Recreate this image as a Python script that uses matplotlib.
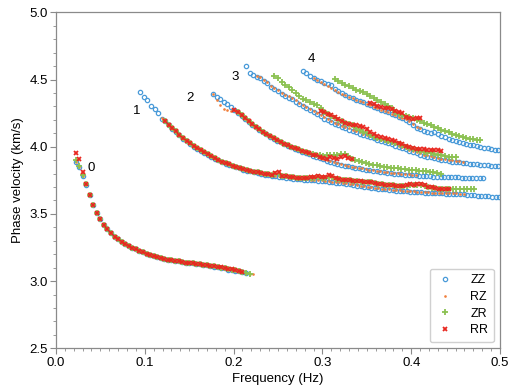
import matplotlib
matplotlib.use("Agg")
import matplotlib.pyplot as plt
from matplotlib.ticker import MultipleLocator
import numpy as np

plt.rcParams['font.family'] = ['Liberation Sans', 'DejaVu Sans']

# frequency sampling of the dispersion picks (Hz)
df = 0.004

# ---- mode 0 ----
m0_zz_f0 = 0.022
m0_zz = [3.89, 3.85, 3.78, 3.715, 3.64, 3.57, 3.51, 3.46, 3.42, 3.385, 3.355, 3.33, 3.31, 3.29,
         3.275, 3.26, 3.248, 3.236, 3.225, 3.214, 3.204, 3.195, 3.187, 3.179, 3.172, 3.166, 3.16,
         3.155, 3.15, 3.146, 3.142, 3.138, 3.135, 3.131, 3.127, 3.124, 3.12, 3.117, 3.113, 3.108,
         3.104, 3.1, 3.094, 3.086, 3.082, 3.078, 3.072, 3.066, 3.058]
m0_rz_f0 = 0.022
m0_rz = [3.89, 3.85, 3.785, 3.72, 3.64, 3.57, 3.51, 3.46, 3.42, 3.385, 3.355, 3.33, 3.31, 3.29,
         3.275, 3.26, 3.248, 3.236, 3.225, 3.214, 3.204, 3.195, 3.187, 3.179, 3.172, 3.166, 3.16,
         3.155, 3.15, 3.146, 3.142, 3.138, 3.135, 3.131, 3.127, 3.124, 3.12, 3.117, 3.113, 3.109,
         3.105, 3.1, 3.095, 3.089, 3.084, 3.079, 3.073, 3.067, 3.061, 3.055, 3.05]
m0_zr_f0 = 0.022
m0_zr = [3.9, 3.86, 3.79, 3.72, 3.64, 3.57, 3.51, 3.46, 3.42, 3.385, 3.355, 3.33, 3.31, 3.29,
         3.275, 3.26, 3.248, 3.236, 3.225, 3.214, 3.204, 3.195, 3.187, 3.179, 3.172, 3.166, 3.16,
         3.155, 3.15, 3.146, 3.142, 3.138, 3.135, 3.131, 3.127, 3.124, 3.12, 3.117, 3.113, 3.109,
         3.105, 3.1, 3.095, 3.089, 3.084, 3.079, 3.073, 3.066, 3.058, 3.052]
m0_rr_f0 = 0.022
m0_rr = [3.95, 3.905, 3.81, 3.72, 3.64, 3.57, 3.51, 3.46, 3.42, 3.385, 3.355, 3.33, 3.31, 3.29,
         3.275, 3.26, 3.248, 3.236, 3.225, 3.214, 3.204, 3.195, 3.187, 3.179, 3.172, 3.166, 3.16,
         3.155, 3.15, 3.146, 3.142, 3.138, 3.135, 3.131, 3.127, 3.124, 3.12, 3.117, 3.114, 3.11,
         3.106, 3.102, 3.098, 3.093, 3.088, 3.083, 3.077, 3.071]

# ---- mode 1 ----
m1_zz_f0 = 0.095
m1_zz = [4.41, 4.37, 4.35, 4.30, 4.28, 4.25, 4.21,
         4.19, 4.16, 4.135, 4.11, 4.085, 4.06, 4.04, 4.02, 4.0, 3.985, 3.97, 3.955, 3.94, 3.925,
         3.912, 3.898, 3.885, 3.874, 3.864, 3.855, 3.846, 3.838, 3.83, 3.823, 3.816, 3.81, 3.804,
         3.798, 3.793, 3.788, 3.783, 3.779, 3.775, 3.771, 3.768, 3.765, 3.762, 3.759, 3.757, 3.755,
         3.753, 3.751, 3.749, 3.747, 3.745, 3.742, 3.739, 3.736, 3.733, 3.73, 3.727, 3.723, 3.719,
         3.715, 3.711, 3.707, 3.703, 3.699, 3.695, 3.691, 3.688, 3.685, 3.682, 3.679, 3.676, 3.673,
         3.671, 3.669, 3.667, 3.665, 3.663, 3.661, 3.66, 3.658, 3.657, 3.655, 3.654, 3.653, 3.652,
         3.651, 3.65, 3.649, 3.648, 3.647, 3.645, 3.643, 3.641, 3.639, 3.637, 3.635, 3.633, 3.631,
         3.629, 3.627, 3.625]
m1_rz_f0 = 0.119
m1_rz = [4.215, 4.195, 4.165, 4.14, 4.115, 4.09, 4.065, 4.045, 4.025, 4.005, 3.99, 3.975, 3.96,
         3.945, 3.93, 3.916, 3.902, 3.889, 3.878, 3.868, 3.859, 3.85, 3.842, 3.834, 3.827, 3.82,
         3.814, 3.808, 3.802, 3.797, 3.792, 3.787, 3.783, 3.779, 3.775, 3.772, 3.769, 3.766, 3.763,
         3.761, 3.759, 3.757, 3.755, 3.753, 3.751, 3.749, 3.746, 3.743, 3.74, 3.737, 3.734, 3.731,
         3.727, 3.723, 3.719, 3.715, 3.711, 3.707, 3.703, 3.699, 3.695, 3.692, 3.689, 3.686, 3.683,
         3.68, 3.677, 3.675, 3.673, 3.671, 3.669, 3.667, 3.665, 3.664, 3.662, 3.661, 3.659, 3.658,
         3.657, 3.656, 3.655, 3.654, 3.653, 3.652, 3.651, 3.65]
m1_zr_f0 = 0.123
m1_zr = [4.195, 4.165, 4.14, 4.115, 4.09, 4.065, 4.045, 4.025, 4.005, 3.99, 3.975, 3.96, 3.945,
         3.93, 3.917, 3.903, 3.89, 3.879, 3.869, 3.86, 3.851, 3.843, 3.835, 3.828, 3.821, 3.815,
         3.81, 3.805, 3.80, 3.795, 3.79, 3.795, 3.798, 3.785, 3.78, 3.776, 3.772, 3.77, 3.768,
         3.766, 3.766, 3.768, 3.77, 3.772, 3.77, 3.768, 3.775, 3.772, 3.762, 3.758, 3.754, 3.751,
         3.749, 3.747, 3.744, 3.741, 3.739, 3.737, 3.734, 3.73, 3.726, 3.722, 3.718, 3.715, 3.712,
         3.709, 3.706, 3.708, 3.711, 3.713, 3.712, 3.712, 3.713, 3.708, 3.701, 3.696, 3.692, 3.689,
         3.687, 3.685, 3.684, 3.684, 3.684, 3.685, 3.685, 3.684, 3.684, 3.683]
m1_rr_f0 = 0.123
m1_rr = [4.195, 4.165, 4.14, 4.115, 4.09, 4.065, 4.045, 4.025, 4.005, 3.99, 3.975, 3.96, 3.945,
         3.93, 3.917, 3.903, 3.89, 3.879, 3.869, 3.86, 3.851, 3.843, 3.835, 3.828, 3.821, 3.815,
         3.81, 3.805, 3.80, 3.795, 3.79, 3.808, 3.812, 3.785, 3.78, 3.776, 3.772, 3.77, 3.768,
         3.766, 3.768, 3.772, 3.776, 3.78, 3.775, 3.772, 3.79, 3.785, 3.765, 3.76, 3.755, 3.752,
         3.75, 3.748, 3.745, 3.742, 3.74, 3.738, 3.735, 3.73, 3.726, 3.722, 3.718, 3.715, 3.712,
         3.709, 3.706, 3.71, 3.715, 3.72, 3.718, 3.72, 3.722, 3.712, 3.703, 3.697, 3.692, 3.688,
         3.685, 3.683, 3.682]

# ---- mode 2 ----
m2_zz_f0 = 0.177
m2_zz = [4.39, 4.372, 4.355, 4.335, 4.317, 4.298, 4.275, 4.252, 4.23, 4.208, 4.186, 4.165, 4.145,
         4.126, 4.108, 4.091, 4.075, 4.06, 4.046, 4.033, 4.02, 4.008, 3.996, 3.985, 3.974, 3.964,
         3.954, 3.944, 3.934, 3.925, 3.915, 3.906, 3.897, 3.888, 3.88, 3.873, 3.866, 3.86, 3.854,
         3.848, 3.843, 3.838, 3.834, 3.83, 3.825, 3.821, 3.817, 3.813, 3.81, 3.806, 3.803, 3.80,
         3.797, 3.795, 3.792, 3.79, 3.788, 3.786, 3.784, 3.782, 3.78, 3.779, 3.778, 3.777, 3.776,
         3.775, 3.774, 3.773, 3.772, 3.771, 3.77, 3.77, 3.769, 3.768, 3.767, 3.766, 3.765]
m2_rz_f0 = 0.177
m2_rz = [4.39, 4.35, 4.31, 4.28, 4.272, 4.268, 4.27, 4.255, 4.234, 4.212, 4.19, 4.169, 4.149,
         4.13, 4.112, 4.095, 4.079, 4.064, 4.05, 4.037, 4.024, 4.012, 4.0, 3.989, 3.978, 3.968,
         3.958, 3.948, 3.938, 3.929, 3.919, 3.91, 3.901, 3.892, 3.884, 3.877, 3.87, 3.864, 3.858,
         3.852, 3.847, 3.842, 3.838, 3.834, 3.829, 3.825, 3.821, 3.817, 3.814, 3.81, 3.807, 3.804,
         3.801, 3.799, 3.796, 3.794, 3.792, 3.79]
m2_zr_f0 = 0.205
m2_zr = [4.255, 4.233, 4.212, 4.19, 4.17, 4.15, 4.13, 4.112, 4.096, 4.08, 4.065, 4.05, 4.037,
         4.024, 4.012, 4.0, 3.99, 3.98, 3.97, 3.96, 3.952, 3.946, 3.94, 3.935, 3.93, 3.935, 3.94,
         3.938, 3.936, 3.945, 3.948, 3.93, 3.91, 3.9, 3.892, 3.885, 3.878, 3.872, 3.866, 3.861,
         3.856, 3.852, 3.848, 3.845, 3.842, 3.839, 3.836, 3.833, 3.83, 3.827, 3.824, 3.821, 3.818,
         3.816, 3.814, 3.81, 3.805, 3.80]
m2_rr_f0 = 0.201
m2_rr = [4.275, 4.255, 4.233, 4.212, 4.19, 4.17, 4.15, 4.13, 4.112, 4.096, 4.08, 4.065, 4.05,
         4.037, 4.024, 4.012, 4.0, 3.99, 3.98, 3.97, 3.96, 3.95, 3.942, 3.935, 3.927, 3.918, 3.912,
         3.92, 3.915, 3.91, 3.925, 3.93, 3.915, 3.905]

# ---- mode 3 ----
m3_zz_f0 = 0.214
m3_zz = [4.60, 4.551, 4.535, 4.522, 4.509, 4.492, 4.472, 4.447, 4.428, 4.411, 4.395, 4.38, 4.366,
         4.352, 4.336, 4.32, 4.303, 4.287, 4.271, 4.255, 4.24, 4.225, 4.21, 4.196, 4.183, 4.171,
         4.16, 4.149, 4.138, 4.128, 4.118, 4.108, 4.098, 4.089, 4.08, 4.071, 4.062, 4.053, 4.045,
         4.036, 4.027, 4.018, 4.009, 4.0, 3.99, 3.98, 3.97, 3.96, 3.95, 3.942, 3.934, 3.927, 3.92,
         3.914, 3.908, 3.903, 3.898, 3.894, 3.89, 3.886, 3.883, 3.88, 3.877, 3.874, 3.871, 3.868,
         3.866, 3.863, 3.861, 3.858, 3.856, 3.854]
m3_rz_f0 = 0.226
m3_rz = [4.53, 4.517, 4.50, 4.48, 4.455, 4.436, 4.419, 4.403, 4.388, 4.374, 4.36, 4.344, 4.328,
         4.311, 4.295, 4.279, 4.263, 4.248, 4.233, 4.218, 4.204, 4.191, 4.179, 4.168, 4.157, 4.146,
         4.136, 4.126, 4.116, 4.106, 4.097, 4.088, 4.079, 4.07, 4.061, 4.053, 4.044, 4.035, 4.026,
         4.017, 4.008, 3.998, 3.988, 3.978, 3.968, 3.958, 3.95, 3.942, 3.935, 3.928, 3.922, 3.916,
         3.911, 3.906, 3.902, 3.898, 3.894, 3.891, 3.888]
m3_zr_f0 = 0.246
m3_zr = [4.53, 4.51, 4.48, 4.46, 4.445, 4.42, 4.40, 4.38, 4.355, 4.345, 4.335, 4.32, 4.31, 4.29,
         4.262, 4.245, 4.23, 4.215, 4.2, 4.19, 4.18, 4.17, 4.16, 4.14, 4.125, 4.112, 4.10, 4.09,
         4.075, 4.065, 4.055, 4.05, 4.045, 4.035, 4.028, 4.02, 4.01, 4.0, 3.99, 3.985, 3.975, 3.97,
         3.962, 3.955, 3.95, 3.945, 3.94, 3.935, 3.93, 3.927, 3.924, 3.921]
m3_rr_f0 = 0.298
m3_rr = [4.265, 4.255, 4.245, 4.235, 4.222, 4.208, 4.195, 4.18, 4.17, 4.162, 4.158, 4.152, 4.145,
         4.13, 4.112, 4.095, 4.082, 4.072, 4.062, 4.055, 4.048, 4.04, 4.03, 4.018, 4.005, 3.995,
         3.988, 3.985, 3.982, 3.98, 3.977, 3.975, 3.973, 3.972, 3.97]

# ---- mode 4 ----
m4_zz_f0 = 0.278
m4_zz = [4.563, 4.546, 4.53, 4.515, 4.5, 4.487, 4.476, 4.47, 4.46, 4.43, 4.412, 4.398, 4.384,
         4.372, 4.362, 4.35, 4.34, 4.33, 4.32, 4.31, 4.298, 4.287, 4.277, 4.267, 4.257, 4.245,
         4.234, 4.223, 4.212, 4.2, 4.185, 4.165, 4.14, 4.13, 4.12, 4.11, 4.10, 4.11, 4.095, 4.08,
         4.07, 4.06, 4.05, 4.04, 4.032, 4.025, 4.02, 4.015, 4.01, 4.003, 3.998, 3.992, 3.987, 3.982,
         3.978, 3.975]
m4_rz_f0 = 0.290
m4_rz = [4.51, 4.497, 4.484, 4.47, 4.455, 4.44, 4.425, 4.41, 4.396, 4.384, 4.373, 4.362, 4.351,
         4.341, 4.331, 4.321, 4.31, 4.298, 4.287, 4.277, 4.267, 4.257, 4.246, 4.235, 4.224, 4.214,
         4.203, 4.19, 4.172, 4.148, 4.138]
m4_zr_f0 = 0.314
m4_zr = [4.505, 4.49, 4.475, 4.462, 4.45, 4.438, 4.425, 4.415, 4.405, 4.39, 4.375, 4.36, 4.348,
         4.335, 4.32, 4.30, 4.285, 4.26, 4.245, 4.235, 4.225, 4.218, 4.211, 4.2, 4.19, 4.18, 4.17,
         4.16, 4.148, 4.138, 4.125, 4.115, 4.108, 4.098, 4.09, 4.08, 4.072, 4.066, 4.06, 4.056,
         4.053, 4.05]
m4_rr_f0 = 0.354
m4_rr = [4.325, 4.315, 4.305, 4.298, 4.29, 4.285, 4.278, 4.268, 4.258, 4.25, 4.222, 4.211, 4.208,
         4.215, 4.211]

zz_modes = [(m0_zz_f0, m0_zz), (m1_zz_f0, m1_zz), (m2_zz_f0, m2_zz), (m3_zz_f0, m3_zz), (m4_zz_f0, m4_zz)]
rz_modes = [(m0_rz_f0, m0_rz), (m1_rz_f0, m1_rz), (m2_rz_f0, m2_rz), (m3_rz_f0, m3_rz), (m4_rz_f0, m4_rz)]
zr_modes = [(m0_zr_f0, m0_zr), (m1_zr_f0, m1_zr), (m2_zr_f0, m2_zr), (m3_zr_f0, m3_zr), (m4_zr_f0, m4_zr)]
rr_modes = [(m0_rr_f0, m0_rr), (m1_rr_f0, m1_rr), (m2_rr_f0, m2_rr), (m3_rr_f0, m3_rr), (m4_rr_f0, m4_rr)]

mode_labels = ['0', '1', '2', '3', '4']
label_f = [0.0394, 0.0913, 0.151, 0.2017, 0.2874]
label_v = [3.842, 4.266, 4.362, 4.518, 4.652]


def plot_component(ax, modes, label, **style):
	for i, (f0, v) in enumerate(modes):
		f = f0 + df * np.arange(len(v))
		ax.plot(f, v, linestyle='none', label=label if i == 0 else None, **style)


fig = plt.figure(figsize=(5.28, 3.92), dpi=100)
ax = fig.add_axes([0.106, 0.1115, 0.841, 0.857])

plot_component(ax, zz_modes, 'ZZ', marker='o', ms=3.1, mfc='none', mec='#4a9bd9', mew=0.9)
plot_component(ax, rz_modes, 'RZ', marker='o', ms=1.9, mfc='#f07f3c', mec='#f07f3c', mew=0)
plot_component(ax, zr_modes, 'ZR', marker='+', ms=4.0, mec='#8bc152', mew=1.3)
plot_component(ax, rr_modes, 'RR', marker='x', ms=3.3, mec='#e82820', mew=1.3)

for t, f, v in zip(mode_labels, label_f, label_v):
	ax.text(f, v, t, fontsize=9.5, ha='center', va='center')

ax.set_xlim(0, 0.5)
ax.set_ylim(2.5, 5.0)
ax.xaxis.set_major_locator(MultipleLocator(0.1))
ax.xaxis.set_minor_locator(MultipleLocator(0.01))
ax.yaxis.set_major_locator(MultipleLocator(0.5))
ax.yaxis.set_minor_locator(MultipleLocator(0.1))
ax.xaxis.set_major_formatter(matplotlib.ticker.FormatStrFormatter('%.1f'))
ax.yaxis.set_major_formatter(matplotlib.ticker.FormatStrFormatter('%.1f'))

for s in ax.spines.values():
	s.set_color('#8a8a8a')
	s.set_linewidth(0.9)
ax.tick_params(which='major', length=4, width=0.8, color='#8a8a8a', labelsize=9.5, pad=2)
ax.tick_params(which='minor', length=2, width=0.6, color='#8a8a8a')

ax.set_xlabel('Frequency (Hz)', fontsize=9.5, labelpad=3)
ax.set_ylabel('Phase velocity (km/s)', fontsize=9.5, labelpad=4)

leg = ax.legend(loc='lower right', fontsize=9, handletextpad=1.2, labelspacing=0.38,
                borderpad=0.45, handlelength=1.6, fancybox=True, framealpha=1)
leg.get_frame().set_edgecolor('#d0d0d0')

fig.savefig('out.png', dpi=100)
